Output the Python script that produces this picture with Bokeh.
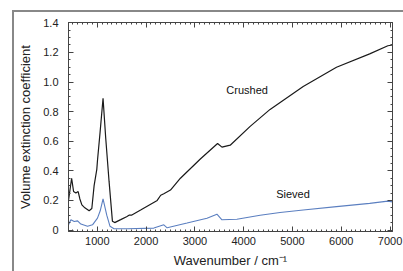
from bokeh.plotting import figure
from bokeh.models import (LinearAxis, Range1d, SingleIntervalTicker, CustomJSTickFormatter, Label)
from bokeh.embed import file_html
from bokeh.resources import INLINE

# Crushed sample (black)
crushed_wn = [410, 474, 514, 561, 608, 643, 684, 745, 833, 888, 935, 990, 1004, 1057, 1118,
              1173, 1241, 1310, 1357, 1480, 1600, 1650, 1700, 1888, 2228, 2300, 2363, 2500, 2704,
              3112, 3465, 3555, 3724, 4133, 4541, 5220, 5902, 6582, 6955, 7050]
crushed_val = [0.20, 0.35, 0.26, 0.25, 0.26, 0.21, 0.17, 0.15, 0.13, 0.145, 0.30, 0.41, 0.47,
               0.66, 0.89, 0.62, 0.33, 0.06, 0.05, 0.07, 0.09, 0.10, 0.10, 0.135, 0.20, 0.235,
               0.245, 0.27, 0.35, 0.48, 0.585, 0.56, 0.573, 0.70, 0.815, 0.97, 1.10, 1.19,
               1.245, 1.25]

# Sieved sample (blue)
sieved_wn = [410, 459, 527, 596, 663, 800, 902, 1004, 1060, 1118, 1194, 1261, 1343, 1616,
             2159, 2363, 2432, 2840, 3248, 3452, 3555, 3861, 4337, 4745, 5220, 5902, 6582,
             6955, 7050]
sieved_val = [0.035, 0.069, 0.058, 0.062, 0.04, 0.025, 0.035, 0.08, 0.13, 0.21, 0.10, 0.025,
              0.009, 0.009, 0.013, 0.035, 0.015, 0.047, 0.08, 0.107, 0.069, 0.073, 0.10, 0.118,
              0.135, 0.158, 0.18, 0.195, 0.19]

FONT = "Liberation Sans"

p = figure(width=403, height=271, output_backend="svg", toolbar_location=None,
           x_range=Range1d(410, 7050), y_range=Range1d(-0.01, 1.402),
           min_border_left=68, min_border_right=11, min_border_top=22, min_border_bottom=40,
           styles={"background": "linear-gradient(#888,#888) 12px 10px / 391px 2px no-repeat, "
                                 "linear-gradient(#888,#888) 12px 10px / 2px 261px no-repeat, white"})
p.xaxis.visible = False
p.yaxis.visible = False
p.grid.visible = False
p.outline_line_color = "#444"
p.background_fill_color = "white"
p.border_fill_alpha = 0

def style(ax):
    ax.major_tick_in = 5
    ax.major_tick_out = 0
    ax.minor_tick_in = 2
    ax.minor_tick_out = 0
    ax.axis_line_color = "#444"
    ax.major_tick_line_color = "#444"
    ax.minor_tick_line_color = "#444"
    ax.major_label_text_font = FONT
    ax.major_label_text_font_size = "11px"
    ax.major_label_text_color = "#222"
    ax.axis_label_text_font = FONT
    ax.axis_label_text_font_size = "13px"
    ax.axis_label_text_font_style = "normal"
    ax.axis_label_text_color = "#222"

xt = SingleIntervalTicker(interval=1000, num_minor_ticks=10)
yt = SingleIntervalTicker(interval=0.2, num_minor_ticks=4)
blank = CustomJSTickFormatter(code="return ''")

xb = LinearAxis(ticker=xt, axis_label="Wavenumber / cm\u207b\u00b9")
style(xb); xb.major_label_standoff = 5; xb.axis_label_standoff = 5
p.add_layout(xb, "below")
yl = LinearAxis(ticker=yt, axis_label="Volume extinction coefficient",
                formatter=CustomJSTickFormatter(code="return tick < 0.01 ? '0' : tick.toFixed(1)"))
style(yl); yl.major_label_standoff = 10; yl.axis_label_standoff = 7
p.add_layout(yl, "left")
xa = LinearAxis(ticker=xt, formatter=blank)
style(xa); xa.major_label_standoff = 0
p.add_layout(xa, "above")
yr = LinearAxis(ticker=yt, formatter=blank)
style(yr); yr.major_label_standoff = 0
p.add_layout(yr, "right")

p.line(crushed_wn, crushed_val, line_color="#1a1a1a", line_width=1.2)
p.line(sieved_wn, sieved_val, line_color="#5b7fc0", line_width=1.1)

p.add_layout(Label(x=4071, y=0.947, text="Crushed", text_font=FONT, text_font_size="11px",
                   text_color="#111", text_align="center", text_baseline="middle"))
p.add_layout(Label(x=5010, y=0.24, text="Sieved", text_font=FONT, text_font_size="11px",
                   text_color="#111", text_align="center", text_baseline="middle"))

open("out.html", "w").write(file_html(p, INLINE))
